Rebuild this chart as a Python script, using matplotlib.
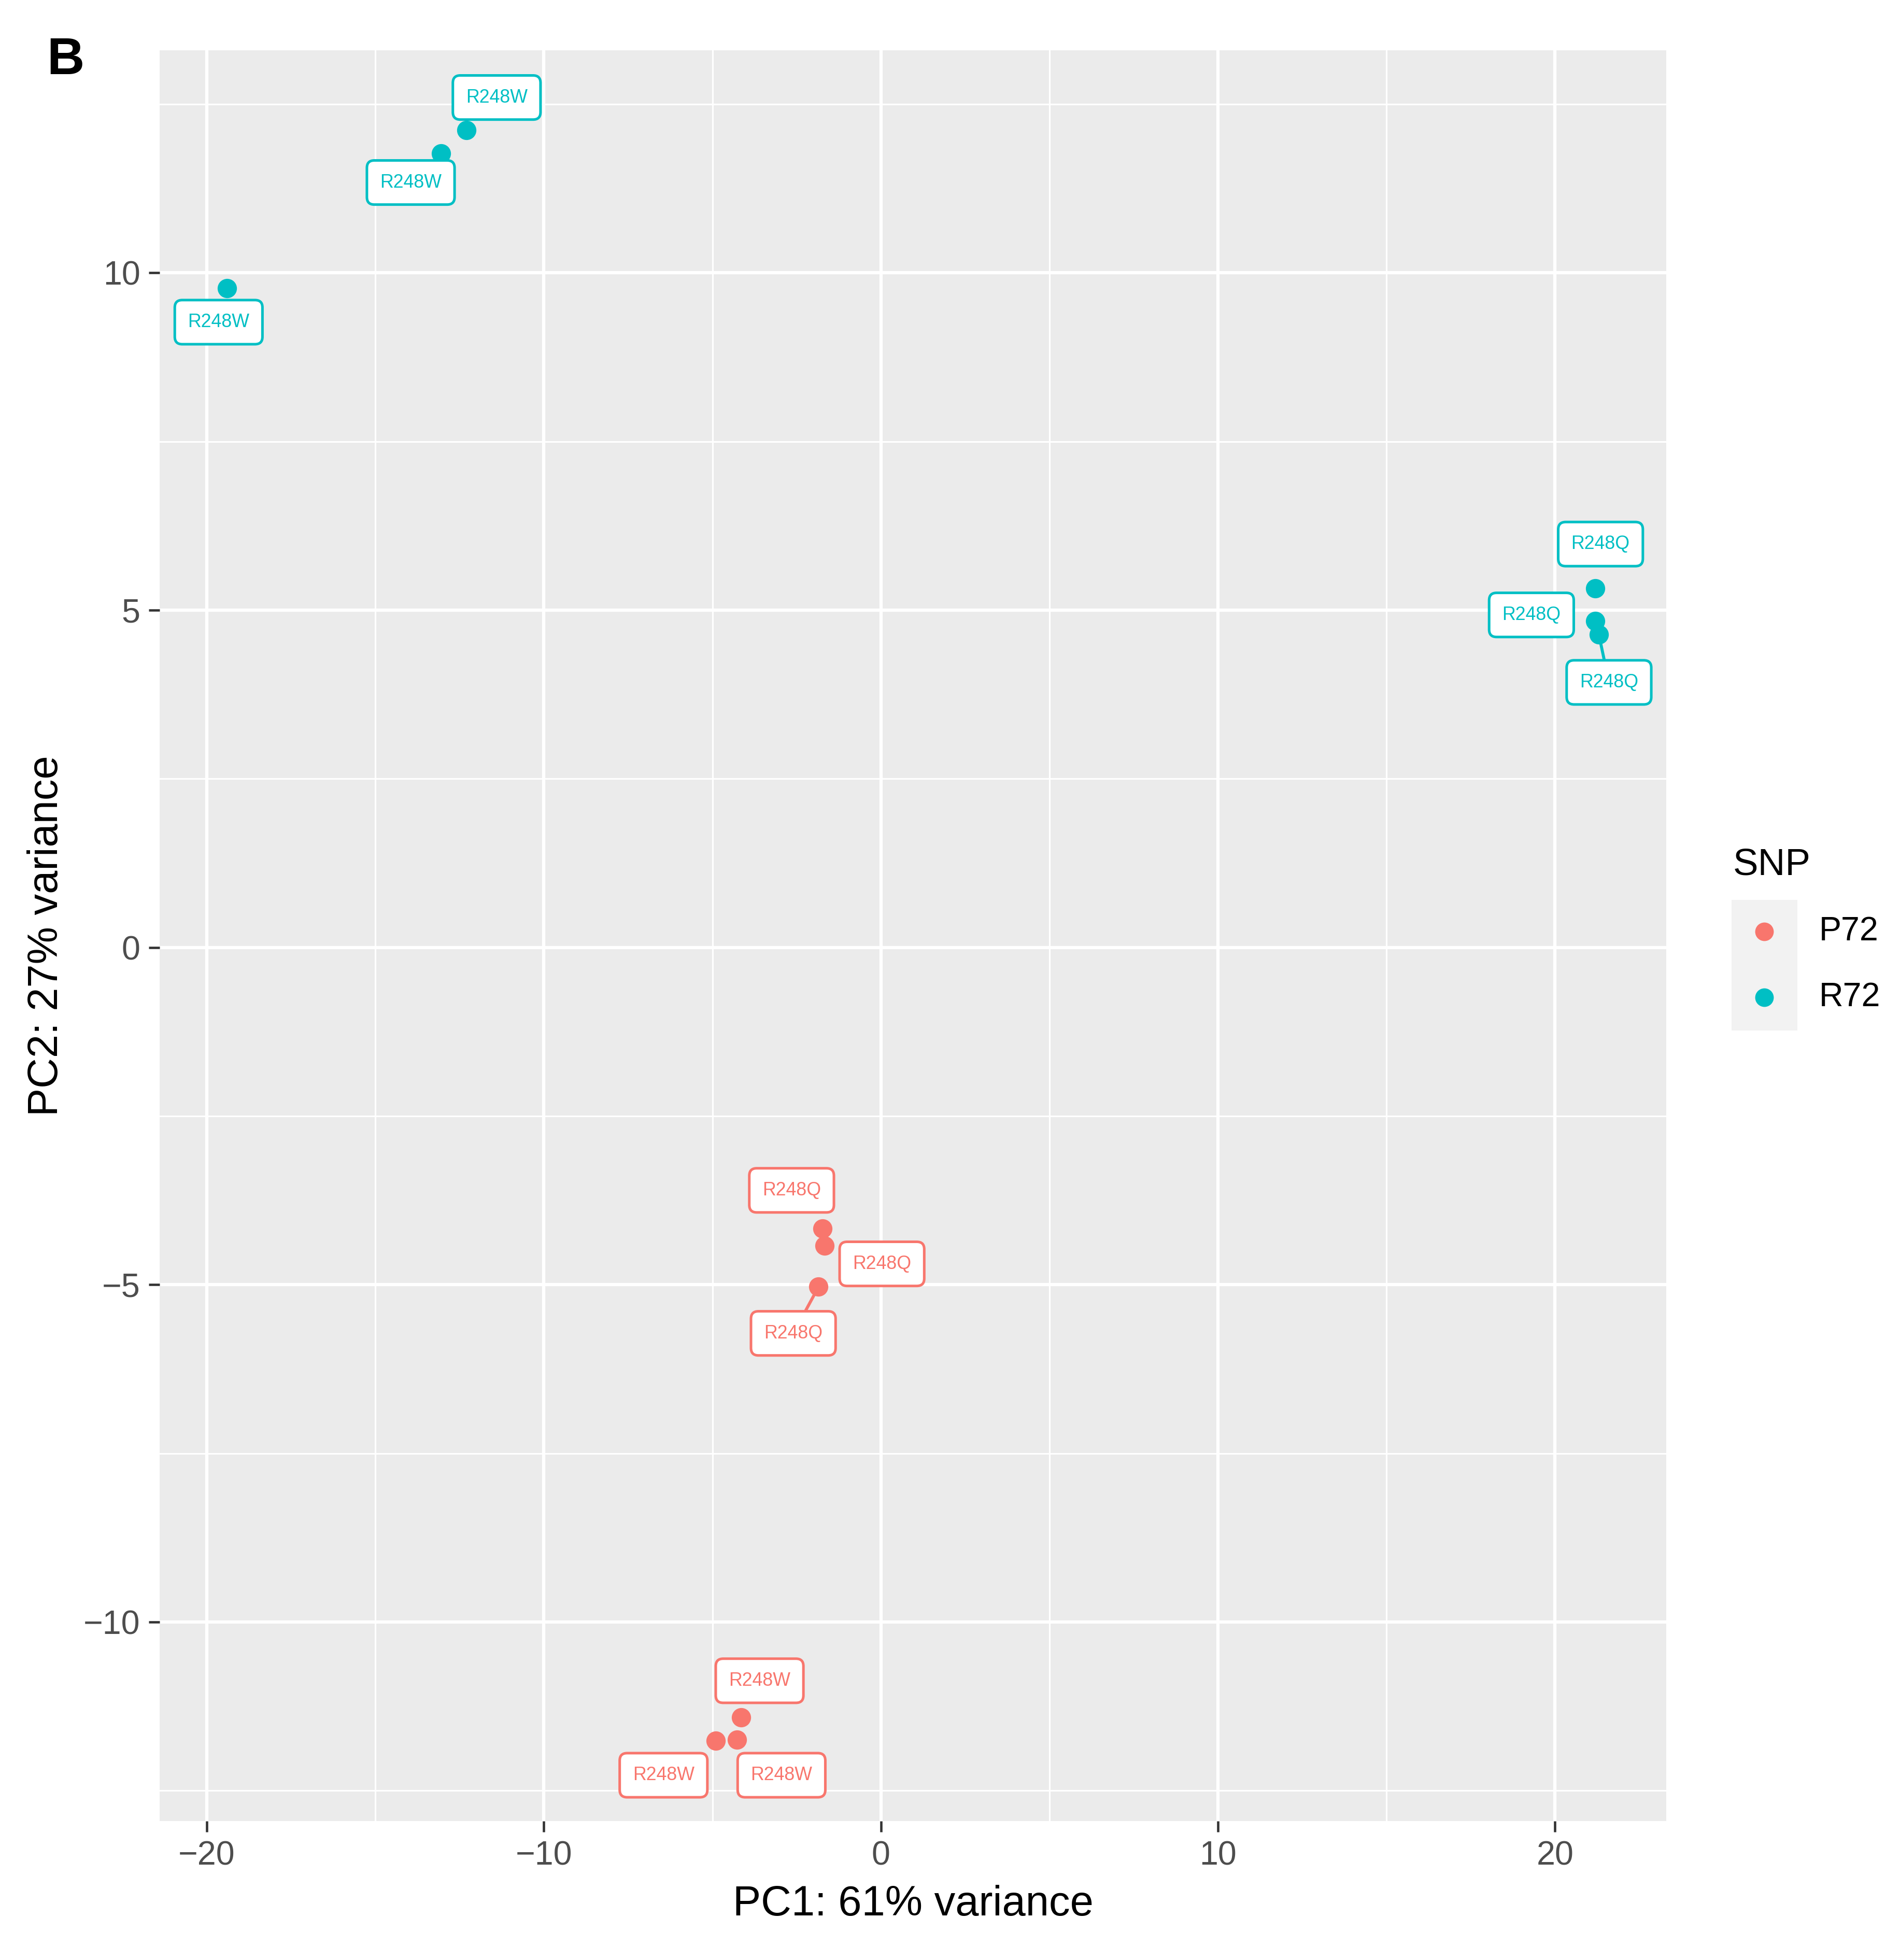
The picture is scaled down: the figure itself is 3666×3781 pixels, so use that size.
import numpy as np
import matplotlib.pyplot as plt
from matplotlib.patches import Rectangle
from matplotlib.lines import Line2D

plt.rcParams['font.family'] = ['Liberation Sans', 'DejaVu Sans']

# PCA coordinates
pc1 = [-19.4, -13.05, -12.3, 21.2, 21.2, 21.3,
       -1.74, -1.67, -1.85, -4.15, -4.9, -4.27]
pc2 = [9.77, 11.77, 12.12, 5.32, 4.84, 4.64,
       -4.17, -4.42, -5.03, -11.41, -11.76, -11.74]
snp = ['R72'] * 6 + ['P72'] * 6
mutation = ['R248W', 'R248W', 'R248W', 'R248Q', 'R248Q', 'R248Q',
            'R248Q', 'R248Q', 'R248Q', 'R248W', 'R248W', 'R248W']

# where the repelled labels ended up (data units) and if a segment shows
label_x = [-19.65, -13.95, -11.4, 21.35, 19.3, 21.6,
           -2.65, 0.03, -2.6, -3.6, -6.45, -2.95]
label_y = [9.27, 11.34, 12.6, 5.98, 4.93, 3.93,
           -3.6, -4.69, -5.72, -10.87, -12.27, -12.27]
has_segment = [False, False, False, False, False, True,
               False, False, True, False, False, False]

snp_levels = ['P72', 'R72']
snp_colors = {'P72': '#F8766D', 'R72': '#00BFC4'}

W, H = 3666, 3781
fig = plt.figure(figsize=(W / 300, H / 300), dpi=300)
ax = fig.add_axes([308 / W, 1 - 3513 / H, (3215 - 308) / W, (3513 - 97) / H])

ax.set_facecolor('#EBEBEB')
for s in ax.spines.values():
    s.set_visible(False)

ax.set_xlim(-21.4, 23.3)
ax.set_ylim(-12.95, 13.3)
ax.set_xticks([-20, -10, 0, 10, 20])
ax.set_yticks([-10, -5, 0, 5, 10])
ax.set_xticks([-15, -5, 5, 15], minor=True)
ax.set_yticks([-12.5, -7.5, -2.5, 2.5, 7.5, 12.5], minor=True)
ax.set_xticklabels(['\u221220', '\u221210', '0', '10', '20'])
ax.set_yticklabels(['\u221210', '\u22125', '0', '5', '10'])
ax.grid(which='major', color='white', linewidth=1.5)
ax.grid(which='minor', color='white', linewidth=0.75)
ax.set_axisbelow(True)
ax.tick_params(which='major', length=5, width=1.1, color='#333333',
               labelsize=15.5, labelcolor='#4D4D4D', pad=4)
ax.tick_params(which='minor', length=0)

ax.set_xlabel('PC1: 61% variance', fontsize=19.5, labelpad=6)
ax.set_ylabel('PC2: 27% variance', fontsize=19.5, labelpad=8)

for i in range(len(pc1)):
    col = snp_colors[snp[i]]
    ax.scatter(pc1[i], pc2[i], s=80, color=col, zorder=3, linewidths=0)
    arrow = None
    if has_segment[i]:
        arrow = dict(arrowstyle='-', color=col, lw=1.4, shrinkA=0, shrinkB=0)
    ax.annotate(mutation[i], xy=(pc1[i], pc2[i]), xytext=(label_x[i], label_y[i]),
                ha='center', va='center', fontsize=8.6, color=col, zorder=4,
                bbox=dict(boxstyle='round,pad=0.7,rounding_size=0.4',
                          facecolor='white', edgecolor=col, linewidth=1.2),
                arrowprops=arrow)

# legend drawn the ggplot way
fig.patches.append(Rectangle((3341 / W, 1 - 1988 / H), 127 / W, 252 / H,
                             transform=fig.transFigure, facecolor='#F2F2F2',
                             edgecolor='none'))
fig.text(3344 / W, 1 - 1687 / H, 'SNP', fontsize=17.5, ha='left', va='baseline')
for k, lev in enumerate(snp_levels):
    yk = 1 - (1797 + 127 * k) / H
    fig.lines.append(Line2D([3404 / W], [yk], transform=fig.transFigure,
                            marker='o', markersize=8.6, linestyle='none',
                            color=snp_colors[lev], markeredgewidth=0))
    fig.text(3510 / W, yk, lev, fontsize=15.5, ha='left', va='center')

fig.text(90 / W, 1 - 143 / H, 'B', fontsize=24, fontweight='bold',
         ha='left', va='baseline')

fig.savefig('out.png', dpi=300)
